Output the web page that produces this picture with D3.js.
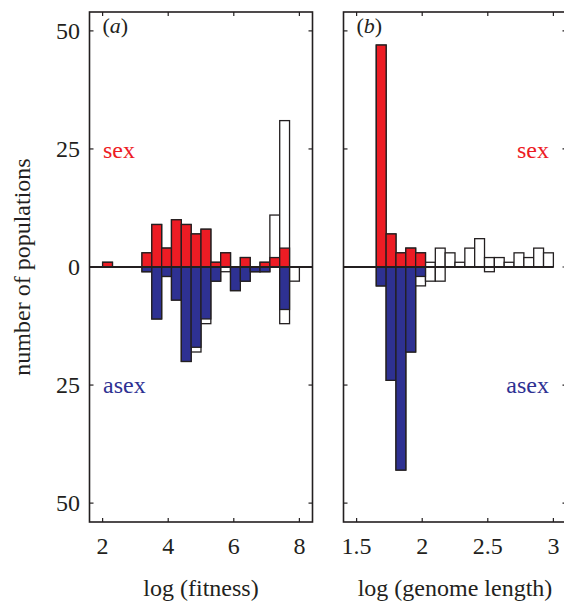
<!DOCTYPE html>
<html>
<head>
<meta charset="utf-8">
<script src="https://cdn.jsdelivr.net/npm/d3@7"></script>
<style>
  body { margin: 0; background: #fff; }
  svg text { font-family: "Liberation Serif", "DejaVu Serif", serif; }
</style>
</head>
<body>
<svg id="chart" width="564" height="602"></svg>
<script>
// panel (a): log(fitness), bins of 0.3 starting at 2.0
const fitnessBinStart = 2.0;
const fitnessBinWidth = 0.3;
const fitnessSex      = [1, 0, 0, 0, 3, 9, 4, 10, 9, 7, 8, 1, 3, 0, 2, 0, 1, 2, 4, 0];
const fitnessSexAll   = [1, 0, 0, 0, 3, 9, 4, 10, 9, 7, 8, 1, 3, 0, 2, 0, 1, 11, 31, 0];
const fitnessAsex     = [0, 0, 0, 0, 1, 11, 2, 7, 20, 17, 11, 3, 0, 5, 3, 1, 1, 0, 9, 0];
const fitnessAsexAll  = [0, 0, 0, 0, 1, 11, 2, 7, 20, 18, 12, 3, 1, 5, 3, 1, 1, 0, 12, 3];
const fitnessTicks = [2, 4, 6, 8];

// panel (b): log(genome length), bins of 0.075 starting at 1.65
const genomeBinStart = 1.65;
const genomeBinWidth = 0.075;
const genomeSex     = [47, 7, 3, 4, 3, 0, 0, 0, 0, 0, 0, 0, 0, 0, 0, 0, 0, 0];
const genomeSexAll  = [47, 7, 3, 4, 3, 1, 4, 3, 1, 4, 6, 2, 2, 1, 3, 2, 4, 3];
const genomeAsex    = [4, 24, 43, 18, 2, 0, 0, 0, 0, 0, 0, 0, 0, 0, 0, 0, 0, 0];
const genomeAsexAll = [4, 24, 43, 18, 4, 3, 3, 0, 0, 0, 0, 1, 0, 0, 0, 0, 0, 0];
const genomeTicks = [1.5, 2, 2.5, 3];

const yTicks = [-50, -25, 0, 25, 50];

const RED = '#ed1c24';
const BLUE = '#2e3192';
const EDGE = '#231f20';
const FONT = 24;

const svg = d3.select('#chart');
const plotTop = 12, plotBottom = 522;

const y = d3.scaleLinear().domain([-54, 54]).range([plotBottom, plotTop]);

function drawPanel(opts) {
    const x = d3.scaleLinear().domain(opts.domain).range(opts.range);
    const g = svg.append('g');

    const bins = opts.sex.map((d, i) => ({
        x0: opts.start + i * opts.width,
        x1: opts.start + (i + 1) * opts.width,
        sex: d,
        sexAll: opts.sexAll[i],
        asex: opts.asex[i],
        asexAll: opts.asexAll[i]
    }));

    const layers = [
        {key: 'sexAll', sign: 1, fill: '#fff'},
        {key: 'asexAll', sign: -1, fill: '#fff'},
        {key: 'sex', sign: 1, fill: RED},
        {key: 'asex', sign: -1, fill: BLUE}
    ];

    layers.forEach(layer => {
        g.append('g')
            .selectAll('rect')
            .data(bins.filter(b => b[layer.key] > 0))
            .join('rect')
            .attr('x', d => x(d.x0))
            .attr('width', d => x(d.x1) - x(d.x0))
            .attr('y', d => layer.sign > 0 ? y(d[layer.key]) : y(0))
            .attr('height', d => Math.abs(y(d[layer.key]) - y(0)))
            .attr('fill', layer.fill)
            .attr('stroke', EDGE)
            .attr('stroke-width', 1.3);
    });

    // zero line
    g.append('line')
        .attr('x1', x(opts.domain[0]))
        .attr('x2', x(opts.zeroEnd))
        .attr('y1', y(0))
        .attr('y2', y(0))
        .attr('stroke', EDGE)
        .attr('stroke-width', 2);

    // frame with inward ticks
    const frame = g.append('g').attr('stroke', EDGE).attr('fill', 'none');
    frame.append('rect')
        .attr('x', opts.range[0])
        .attr('y', plotTop)
        .attr('width', opts.range[1] - opts.range[0])
        .attr('height', plotBottom - plotTop)
        .attr('stroke-width', 1.6);

    const tickLen = 4;
    opts.ticks.forEach(t => {
        frame.append('line').attr('x1', x(t)).attr('x2', x(t))
            .attr('y1', plotBottom).attr('y2', plotBottom - tickLen).attr('stroke-width', 1.2);
        frame.append('line').attr('x1', x(t)).attr('x2', x(t))
            .attr('y1', plotTop).attr('y2', plotTop + tickLen).attr('stroke-width', 1.2);
    });
    yTicks.forEach(t => {
        frame.append('line').attr('x1', opts.range[0]).attr('x2', opts.range[0] + tickLen)
            .attr('y1', y(t)).attr('y2', y(t)).attr('stroke-width', 1.2);
        frame.append('line').attr('x1', opts.range[1]).attr('x2', opts.range[1] - tickLen)
            .attr('y1', y(t)).attr('y2', y(t)).attr('stroke-width', 1.2);
    });

    // x tick labels
    g.append('g')
        .selectAll('text')
        .data(opts.ticks)
        .join('text')
        .attr('x', d => x(d))
        .attr('y', 554)
        .attr('text-anchor', 'middle')
        .attr('font-size', FONT)
        .attr('fill', '#231f20')
        .text(d => d);

    g.append('text')
        .attr('x', opts.titleX)
        .attr('y', 596)
        .attr('text-anchor', 'middle')
        .attr('font-size', FONT)
        .attr('fill', '#231f20')
        .text(opts.title);

    const lab = g.append('text')
        .attr('x', opts.range[0] + 13)
        .attr('y', 33)
        .attr('font-size', 22)
        .attr('fill', '#231f20');
    lab.append('tspan').text('(');
    lab.append('tspan').attr('font-style', 'italic').text(opts.letter);
    lab.append('tspan').text(')');

    g.append('text')
        .attr('x', opts.labelX)
        .attr('y', 158)
        .attr('text-anchor', opts.labelAnchor)
        .attr('font-size', FONT)
        .attr('fill', RED)
        .text('sex');

    g.append('text')
        .attr('x', opts.labelX)
        .attr('y', 393)
        .attr('text-anchor', opts.labelAnchor)
        .attr('font-size', FONT)
        .attr('fill', BLUE)
        .text('asex');
}

drawPanel({
    domain: [1.6, 8.4], range: [89.5, 312.5], zeroEnd: 8.4,
    start: fitnessBinStart, width: fitnessBinWidth,
    sex: fitnessSex, sexAll: fitnessSexAll, asex: fitnessAsex, asexAll: fitnessAsexAll,
    ticks: fitnessTicks, title: 'log (fitness)', titleX: 201, letter: 'a',
    labelX: 103, labelAnchor: 'start'
});

drawPanel({
    domain: [1.4, 3.1], range: [343.5, 566.5], zeroEnd: 3.0,
    start: genomeBinStart, width: genomeBinWidth,
    sex: genomeSex, sexAll: genomeSexAll, asex: genomeAsex, asexAll: genomeAsexAll,
    ticks: genomeTicks, title: 'log (genome length)', titleX: 455, letter: 'b',
    labelX: 549, labelAnchor: 'end'
});

// y tick labels (absolute counts)
svg.append('g')
    .selectAll('text')
    .data(yTicks)
    .join('text')
    .attr('x', 80)
    .attr('y', d => y(d) + 8)
    .attr('text-anchor', 'end')
    .attr('font-size', FONT)
    .attr('fill', '#231f20')
    .text(d => Math.abs(d));

svg.append('text')
    .attr('transform', `translate(30, ${y(0)}) rotate(-90)`)
    .attr('text-anchor', 'middle')
    .attr('font-size', FONT)
    .attr('fill', '#231f20')
    .text('number of populations');
</script>
</body>
</html>
